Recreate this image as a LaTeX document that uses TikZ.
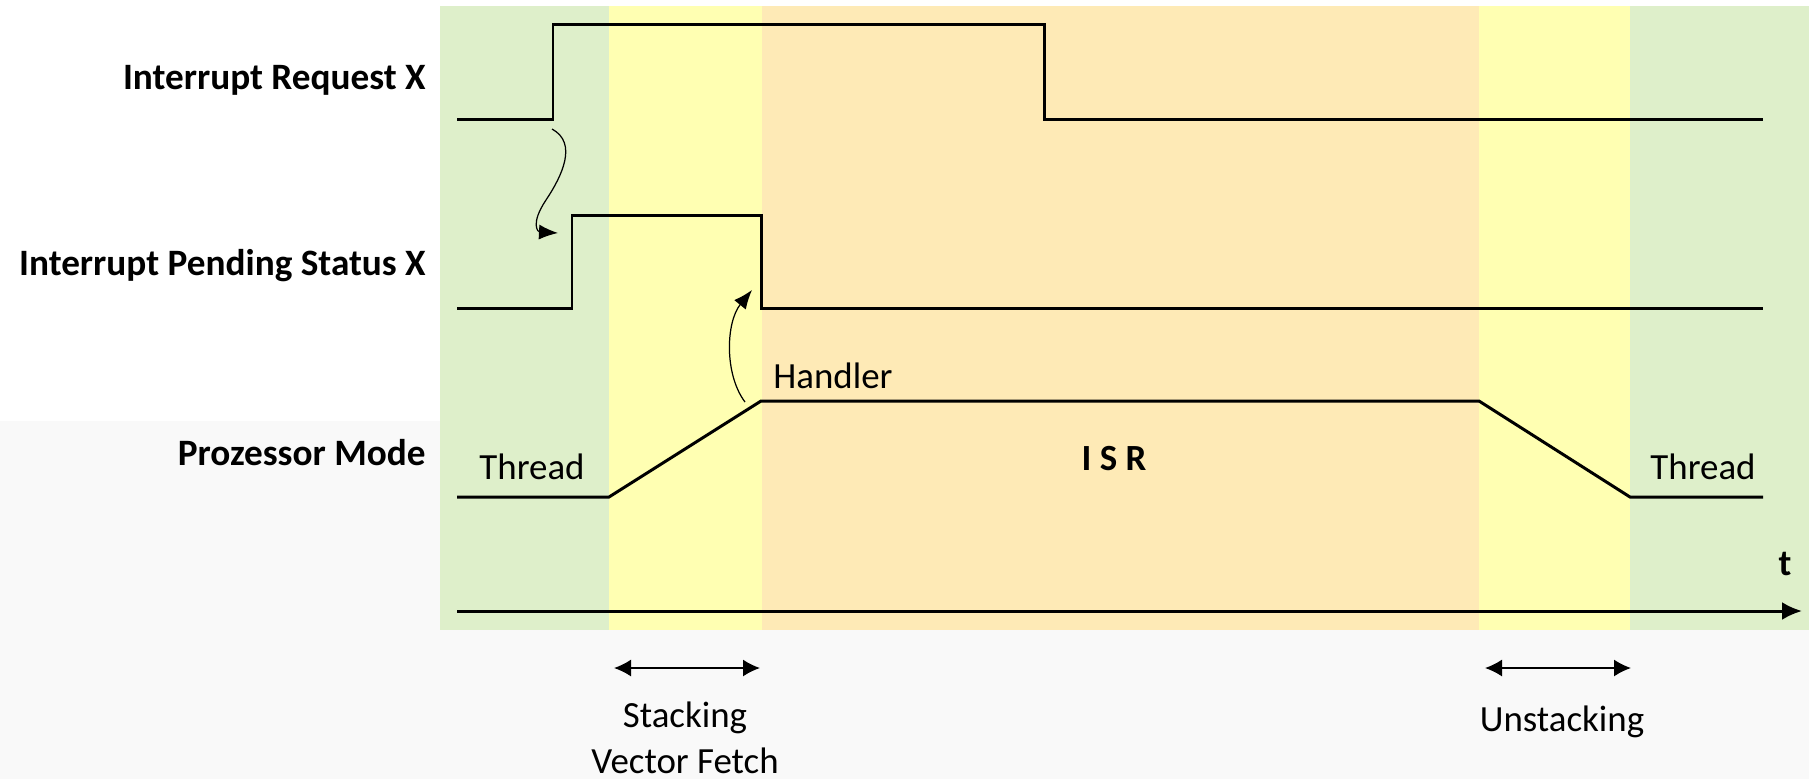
\documentclass[tikz,border=0pt]{standalone}
\usepackage{fontspec}
\setmainfont{Carlito}
\usetikzlibrary{positioning,arrows.meta,backgrounds}
\definecolor{phgreen}{RGB}{222,239,202}
\definecolor{phyellow}{RGB}{255,255,178}
\definecolor{phorange}{RGB}{254,234,182}
\definecolor{pagegray}{RGB}{249,249,249}
\tikzset{
  sig/.style={line width=1.7pt, line join=miter},
  sname/.style={font=\fontsize{21.2}{25}\selectfont\bfseries, anchor=base east, inner sep=0pt},
  mlbl/.style={font=\fontsize{21}{25}\selectfont, anchor=base, inner sep=0pt},
  cause/.style={-{Latex[length=3.8mm,width=3mm]}, line width=0.7pt},
  span/.style={{Latex[length=3.4mm,width=3.4mm]}-{Latex[length=3.4mm,width=3.4mm]}, line width=0.9pt},
  taxis/.style={-{Latex[length=4mm,width=3.6mm]}, line width=1.7pt},
}

\begin{document}
\begin{tikzpicture}[x=0.02cm, y=-0.02cm]
\useasboundingbox (0,0) rectangle (1809,779);
% page and phase bands
\fill[white] (0,0) rectangle (1809,779);
\fill[pagegray] (0,421) rectangle (1809,779);
\fill[phgreen]  (440,6) rectangle (609,630);
\fill[phyellow] (609,6) rectangle (762,630);
\fill[phorange] (762,6) rectangle (1479,630);
\fill[phyellow] (1479,6) rectangle (1630,630);
\fill[phgreen]  (1630,6) rectangle (1809,630);

% signal names
\node[sname] (nirq) at (426,89) {Interrupt Request X};
\node[sname] (npend) at (426,275) {Interrupt Pending Status X};
\node[sname] (nmode) at (426,465) {Prozessor Mode};

% waveforms
\draw[sig] (457,119) -- (553,119) -- (553,24) -- (1044,24) -- (1044,119) -- (1763,119);
\draw[sig] (457,308) -- (572,308) -- (572,215) -- (761,215) -- (761,308) -- (1763,308);
\draw[sig] (457,497) -- (609,497) -- (761,401) -- (1479,401) -- (1630,497) -- (1763,497);

% mode labels
\node[mlbl] (thr1) at (532,479) {Thread};
\node[mlbl] (hdl) at (833,388) {Handler};
\node[mlbl, font=\fontsize{21}{25}\selectfont\bfseries] (isr) at (1114,470) {I S R};
\node[mlbl] (thr2) at (1703,479) {Thread};

% cause arrows
\coordinate (irqup) at (552,129);
\coordinate (pendup) at (558,233);
\coordinate (hdlin) at (745,402);
\coordinate (penddn) at (752,290);
\draw[cause] (irqup) .. controls (578,143) and (562,176) .. (546,200)
  .. controls (530,224) and (538,232) .. (pendup);
\draw[cause] (hdlin) .. controls (724,374) and (726,322) .. (penddn);

% time axis
\coordinate (t0) at (457,611);
\coordinate (t1) at (1802,611);
\draw[taxis] (t0) -- (t1);
\node[mlbl, font=\fontsize{21}{25}\selectfont\bfseries] (tlbl) at (1785,575) {t};

% stacking / unstacking spans
\coordinate (stk0) at (614,668);
\coordinate (stk1) at (760,668);
\coordinate (ustk0) at (1485,668);
\coordinate (ustk1) at (1631,668);
\draw[span] (stk0) -- (stk1);
\draw[span] (ustk0) -- (ustk1);
\node[mlbl] (stklbl) at (685,727) {Stacking};
\node[mlbl] (veclbl) at (685,773) {Vector Fetch};
\node[mlbl] (ustklbl) at (1562,731) {Unstacking};
\end{tikzpicture}
\end{document}
